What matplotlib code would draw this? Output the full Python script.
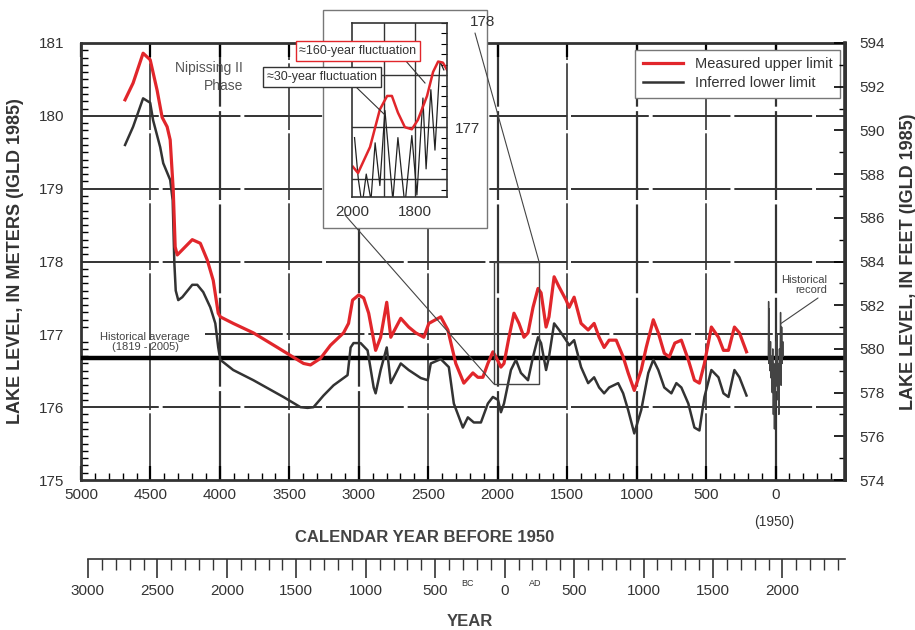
import numpy as np
import matplotlib.pyplot as plt
from matplotlib.patches import Rectangle, ConnectionPatch
from matplotlib.ticker import MultipleLocator, FixedLocator

plt.rcParams['font.family'] = ['Liberation Sans', 'DejaVu Sans']

# measured upper limit (years before 1950, lake level m)
red_bp = [4683, 4625, 4553, 4502, 4452, 4416, 4380, 4358, 4336, 4322, 4307, 4271, 4199, 4141, 4091,
          4048, 4012, 3997, 3904, 3759, 3586, 3492, 3398, 3348, 3276, 3204, 3110, 3074, 3045, 3001,
          2965, 2929, 2879, 2843, 2799, 2770, 2698, 2641, 2590, 2532, 2496, 2410, 2359, 2302, 2244,
          2179, 2143, 2107, 2071, 2035, 2013, 1977, 1955, 1919, 1883, 1847, 1811, 1782, 1746, 1710,
          1688, 1652, 1631, 1594, 1558, 1508, 1486, 1450, 1400, 1349, 1306, 1270, 1234, 1198, 1147,
          1097, 1061, 1017, 967, 931, 880, 844, 801, 765, 725, 678, 628, 584, 548, 512,
          462, 411, 375, 339, 296, 260, 209]
red_lvl = [180.22, 180.45, 180.86, 180.77, 180.35, 179.98, 179.85, 179.67, 178.98, 178.2, 178.09, 178.16, 178.3, 178.25, 178.02,
           177.74, 177.29, 177.24, 177.15, 177.02, 176.82, 176.71, 176.6, 176.58, 176.67, 176.85, 177.02, 177.15, 177.47, 177.54,
           177.5, 177.29, 176.78, 176.96, 177.44, 176.96, 177.22, 177.1, 177.02, 176.96, 177.15, 177.24, 177.06, 176.6, 176.33,
           176.47, 176.41, 176.41, 176.6, 176.76, 176.69, 176.55, 176.6, 176.96, 177.29, 177.15, 176.96, 177.02, 177.37, 177.63,
           177.57, 177.1, 177.24, 177.79, 177.65, 177.47, 177.37, 177.51, 177.15, 177.06, 177.15, 176.96, 176.82, 176.92, 176.92,
           176.69, 176.47, 176.23, 176.51, 176.82, 177.2, 177.02, 176.74, 176.69, 176.88, 176.92, 176.65, 176.37, 176.33, 176.6,
           177.1, 176.96, 176.78, 176.78, 177.1, 177.02, 176.76]

# inferred lower limit
blk_bp = [4683, 4625, 4553, 4502, 4481, 4430, 4408, 4358, 4340, 4328, 4318, 4300, 4271, 4199, 4163,
          4120, 4069, 4033, 4012, 3997, 3904, 3759, 3543, 3420, 3369, 3326, 3254, 3182, 3081, 3059,
          3038, 2987, 2937, 2893, 2879, 2843, 2799, 2770, 2698, 2641, 2554, 2504, 2482, 2410, 2352,
          2316, 2251, 2215, 2172, 2121, 2071, 2035, 1998, 1977, 1955, 1905, 1869, 1833, 1782, 1746,
          1710, 1688, 1652, 1631, 1594, 1558, 1508, 1486, 1450, 1400, 1349, 1306, 1270, 1234, 1198,
          1133, 1097, 1061, 1017, 967, 916, 880, 844, 801, 750, 714, 678, 628, 584, 548,
          512, 462, 411, 375, 339, 296, 260, 209]
blk_lvl = [179.6, 179.85, 180.24, 180.18, 179.94, 179.57, 179.35, 179.12, 178.84, 177.98, 177.6, 177.47, 177.51, 177.68, 177.68,
           177.58, 177.37, 177.15, 176.82, 176.65, 176.51, 176.37, 176.14, 176.0, 175.99, 176.0, 176.16, 176.3, 176.44, 176.82,
           176.88, 176.88, 176.78, 176.27, 176.19, 176.51, 176.82, 176.33, 176.6, 176.51, 176.4, 176.37, 176.6, 176.66, 176.55,
           176.05, 175.72, 175.86, 175.79, 175.79, 176.05, 176.14, 176.1, 175.93, 176.05, 176.51, 176.65, 176.47, 176.37, 176.69,
           176.96, 176.88, 176.51, 176.69, 177.15, 177.06, 176.92, 176.85, 176.92, 176.55, 176.33, 176.41, 176.27, 176.19, 176.27,
           176.33, 176.19, 175.96, 175.64, 175.96, 176.47, 176.65, 176.51, 176.27, 176.19, 176.33, 176.27, 176.05, 175.72, 175.68,
           176.14, 176.51, 176.41, 176.19, 176.14, 176.51, 176.41, 176.16]

# historical record
hist_bp = [52, 50, 48, 46, 44, 40, 36, 32, 28, 24, 20, 16, 12, 8, 4, 0, -4, -8, -12, -16,
           -20, -24, -28, -32, -36, -40, -44, -48, -52, -55]
hist_lvl = [176.7, 177.45, 176.6, 177.35, 176.8, 176.5, 176.9, 176.4, 176.7, 176.2, 176.8, 175.9, 176.6, 175.7, 176.5,
            176.0, 176.9, 176.3, 177.0, 176.1, 176.6, 175.9, 176.8, 176.5, 177.3, 176.3, 177.1, 176.6, 176.9, 176.7]

hist_avg = 176.68

# inset: 160-year and 30-year fluctuations
fl160_bp = [1997, 1981, 1943, 1912, 1889, 1874, 1855, 1833, 1811, 1792, 1763, 1744, 1728, 1713, 1700]
fl160_lvl = [176.62, 176.56, 176.81, 177.17, 177.3, 177.3, 177.14, 177.0, 176.98, 177.07, 177.3, 177.53, 177.63, 177.62, 177.55]
fl30_bp = [1992, 1980, 1968, 1955, 1940, 1927, 1912, 1896, 1871, 1855, 1833, 1811, 1795, 1776, 1766, 1751, 1738, 1722, 1710]
fl30_lvl = [176.9, 176.5, 176.25, 176.55, 176.3, 176.85, 176.44, 177.16, 176.3, 176.9, 176.25, 176.92, 176.35, 177.28, 176.6, 177.36, 176.78, 177.63, 177.55]

RED = '#e1262b'
DARK = '#333333'

fig = plt.figure(figsize=(9.15, 6.3), dpi=100)
W, H = 915, 630

def fx(px):
    return px / W

def fy(py):
    return 1 - py / H

ax = fig.add_axes([fx(81), fy(480), fx(845 - 81), (480 - 43) / H])
ax.set_xlim(5000, -500)
ax.set_ylim(175, 181)

# grid
for x in range(4500, -1, -500):
    ax.axvline(x, color=DARK, lw=1.6 if x % 1000 == 0 else 1.2, dashes=(40, 2), zorder=1)
for y in [176, 178, 179, 180]:
    ax.axhline(y, color=DARK, lw=1.4, dashes=(40, 2), zorder=1)
ax.hlines(177, 4105, -500, color=DARK, lw=1.4, linestyles=[(0, (40, 2))], zorder=1)
ax.axhline(hist_avg, color='black', lw=3.2, zorder=3)

ax.plot(red_bp, red_lvl, color=RED, lw=2.3, zorder=5, label='Measured upper limit')
ax.plot(blk_bp, blk_lvl, color=DARK, lw=1.8, zorder=4, label='Inferred lower limit')
ax.plot(hist_bp, hist_lvl, color='#444444', lw=1.0, zorder=4)

# small box showing inset region
ax.add_patch(Rectangle((2028, 176.32), 1703 - 2028, 178.0 - 176.32, fill=False,
                       edgecolor='#444444', lw=1.0, zorder=6))

# ticks
ax.xaxis.set_major_locator(MultipleLocator(500))
ax.xaxis.set_minor_locator(MultipleLocator(100))
ax.yaxis.set_major_locator(MultipleLocator(1))
ax.yaxis.set_minor_locator(MultipleLocator(0.1))
ax.tick_params(axis='x', which='major', direction='in', length=10, width=1.6, top=True,
               labelsize=11, labelcolor=DARK, pad=6)
ax.tick_params(axis='x', which='minor', direction='in', length=5, width=1, top=False)
ax.tick_params(axis='y', which='major', direction='in', length=0, labelsize=11, labelcolor=DARK, pad=12)
ax.tick_params(axis='y', which='minor', direction='in', length=5, width=1)
ax.set_xticks([5000, 4500, 4000, 3500, 3000, 2500, 2000, 1500, 1000, 500, 0])
ax.set_xticklabels(['5000', '4500', '4000', '3500', '3000', '2500', '2000', '1500', '1000', '500', '0'])
for s in ax.spines.values():
    s.set_color(DARK)
    s.set_linewidth(2)

ax2 = ax.twinx()
ax2.set_ylim(574, 594)
ax2.yaxis.set_major_locator(MultipleLocator(2))
ax2.yaxis.set_minor_locator(MultipleLocator(1))
ax2.tick_params(axis='y', which='major', direction='in', length=8, width=1.2, labelsize=11,
                labelcolor=DARK, pad=10)
ax2.tick_params(axis='y', which='minor', direction='in', length=4, width=1)
for s in ax2.spines.values():
    s.set_visible(False)
ax2.spines['right'].set_visible(True)
ax2.spines['right'].set_linewidth(2.6)
ax2.spines['right'].set_color(DARK)

ax.set_ylabel('LAKE LEVEL, IN METERS (IGLD 1985)', fontsize=13, fontweight='bold', color=DARK,
              labelpad=11)
ax2.set_ylabel('LAKE LEVEL, IN FEET (IGLD 1985)', fontsize=13, fontweight='bold', color=DARK,
               labelpad=11)

ax.legend(loc='upper right', bbox_to_anchor=(fx(840), fy(50)), bbox_transform=fig.transFigure,
          borderaxespad=0, fancybox=False, edgecolor='#777777', framealpha=1, fontsize=10.5,
          handlelength=2.8, labelcolor=DARK, borderpad=0.5, labelspacing=0.35)

ax.text(4538, 176.9, 'Historical average\n(1819 - 2005)', ha='center', va='center', fontsize=8,
        color='#444444', zorder=7, linespacing=1.0)
fig.text(fx(243), fy(77), 'Nipissing II\nPhase', ha='right', va='center', fontsize=10,
         color='#555555', multialignment='right', linespacing=1.35)
fig.text(fx(827), fy(285), 'Historical\nrecord', ha='right', va='center', fontsize=8,
         color='#444444', multialignment='right', linespacing=0.95)
fig.add_artist(ConnectionPatch(xyA=(fx(818), fy(298)), coordsA=fig.transFigure,
                               xyB=(-40, 177.15), coordsB=ax.transData, color='#444444', lw=0.8))
fig.text(fx(774), fy(522), '(1950)', ha='center', va='center', fontsize=10, color=DARK)
fig.text(fx(425), fy(538), 'CALENDAR YEAR BEFORE 1950', ha='center', va='center', fontsize=12,
         fontweight='bold', color='#444444')

# calendar year axis
axy = fig.add_axes([fx(81), fy(559), fx(845 - 81), 0.001])
axy.set_xlim(1950 - 5000, 1950 + 500)
axy.set_ylim(0, 1)
axy.patch.set_visible(False)
axy.set_yticks([])
for k in ['top', 'left', 'right']:
    axy.spines[k].set_visible(False)
axy.spines['bottom'].set_bounds(-3000, 2450)
axy.spines['bottom'].set_color(DARK)
axy.spines['bottom'].set_linewidth(1.2)
yr_ticks = [-3000, -2500, -2000, -1500, -1000, -500, 0, 500, 1000, 1500, 2000]
yr_labels = ['3000', '2500', '2000', '1500', '1000', '500', '0', '500', '1000', '1500', '2000']
axy.set_xticks(yr_ticks)
axy.set_xticklabels(yr_labels)
axy.xaxis.set_minor_locator(FixedLocator(list(range(-3000, 2401, 100))))
axy.tick_params(axis='x', which='major', direction='out', length=14, width=1.2, labelsize=11,
                labelcolor=DARK, color=DARK, pad=4)
axy.tick_params(axis='x', which='minor', direction='out', length=8, width=1, color=DARK)
fig.text(fx(468), fy(584), 'BC', ha='center', va='center', fontsize=6.5, color=DARK)
fig.text(fx(535), fy(584), 'AD', ha='center', va='center', fontsize=6.5, color=DARK)
fig.text(fx(447), fy(622), 'YEAR', ha='left', va='center', fontsize=12, fontweight='bold',
         color='#444444')

# inset
fig.add_artist(Rectangle((fx(323), fy(228)), fx(487 - 323), (228 - 10) / H, transform=fig.transFigure,
                         facecolor='white', edgecolor='#777777', lw=1.0, zorder=2))
axi = fig.add_axes([fx(352), fy(197), fx(447 - 352), (197 - 23) / H], zorder=3)
axi.set_xlim(2000, 1700)
axi.set_ylim(176.33, 178)
for x in [1900, 1800]:
    axi.axvline(x, color=DARK, lw=1.0)
for y in [176.5, 177.0, 177.5]:
    axi.axhline(y, color=DARK, lw=1.0)
axi.plot(fl30_bp, fl30_lvl, color='#222222', lw=0.9)
axi.plot(fl160_bp, fl160_lvl, color=RED, lw=1.8)
axi.set_xticks([2000, 1800])
axi.set_xticklabels(['2000', '1800'])
axi.tick_params(axis='x', length=0, labelsize=11, labelcolor=DARK, pad=6)
axi.yaxis.tick_right()
axi.set_yticks([177])
axi.set_yticklabels(['177'])
axi.yaxis.set_minor_locator(MultipleLocator(0.1))
axi.tick_params(axis='y', which='major', direction='in', length=6, labelsize=11, labelcolor=DARK, pad=6)
axi.tick_params(axis='y', which='minor', direction='in', length=4, width=0.8)
for s in axi.spines.values():
    s.set_color(DARK)
    s.set_linewidth(1.2)
fig.text(fx(470), fy(22), '178', ha='left', va='center', fontsize=11, color=DARK, zorder=4)

fig.text(fx(358), fy(51), '\u2248160-year fluctuation', ha='center', va='center', fontsize=9,
         color=DARK, zorder=5,
         bbox=dict(boxstyle='square,pad=0.3', facecolor='white', edgecolor=RED, lw=1.0))
fig.text(fx(322), fy(77), '\u224830-year fluctuation', ha='center', va='center', fontsize=9,
         color=DARK, zorder=5,
         bbox=dict(boxstyle='square,pad=0.3', facecolor='white', edgecolor=DARK, lw=1.0))
for a, b in [((405, 60), (425, 83)), ((355, 86), (385, 115))]:
    fig.add_artist(plt.Line2D([fx(a[0]), fx(b[0])], [fy(a[1]), fy(b[1])], transform=fig.transFigure,
                              color=DARK, lw=0.8, zorder=4))

# leader lines from inset to box on main chart
fig.add_artist(ConnectionPatch(xyA=(fx(475), fy(33)), coordsA=fig.transFigure,
                               xyB=(1703, 178.0), coordsB=ax.transData, color='#444444', lw=0.8, zorder=4))
fig.add_artist(ConnectionPatch(xyA=(fx(345), fy(215)), coordsA=fig.transFigure,
                               xyB=(2028, 176.32), coordsB=ax.transData, color='#444444', lw=0.8, zorder=4))

fig.savefig('out.png', dpi=100)
